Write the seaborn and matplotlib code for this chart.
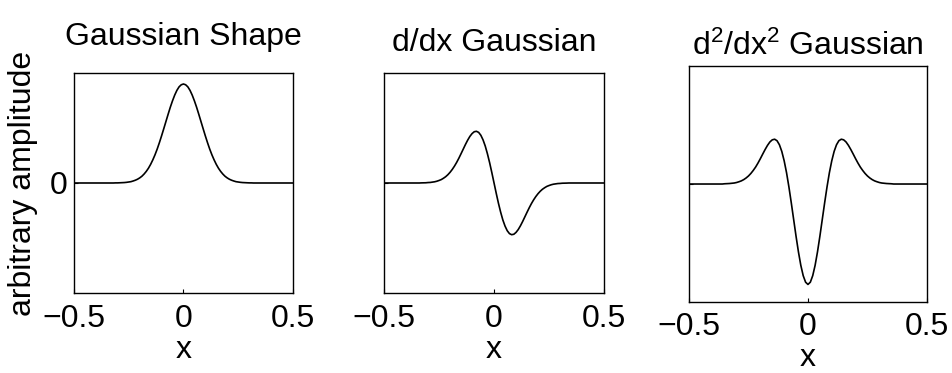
import numpy as np
import pandas as pd
import matplotlib
matplotlib.use("Agg")
import matplotlib.pyplot as plt
import seaborn as sns

# x positions (step 0.01)
x_vals = [round(-0.5 + 0.01 * i, 2) for i in range(101)]

# half-profiles for |x| = 0, 0.01, 0.02, ... (beyond: 0)
gauss_half = [0.900, 0.893, 0.874, 0.842, 0.799, 0.747, 0.689, 0.625, 0.559, 0.493,
              0.428, 0.366, 0.308, 0.256, 0.210, 0.169, 0.134, 0.105, 0.081, 0.061,
              0.046, 0.034, 0.025, 0.018, 0.012, 0.009, 0.006, 0.004, 0.003, 0.002,
              0.001, 0.001, 0.0]
deriv1_half = [0.0, 0.094, 0.184, 0.265, 0.336, 0.392, 0.434, 0.460, 0.470, 0.466,
               0.449, 0.423, 0.389, 0.350, 0.308, 0.266, 0.225, 0.187, 0.153, 0.123,
               0.097, 0.075, 0.057, 0.043, 0.031, 0.023, 0.016, 0.011, 0.008, 0.005,
               0.004, 0.002, 0.0015, 0.001, 0.0]
deriv2_half = [-0.800, -0.782, -0.730, -0.648, -0.541, -0.417, -0.284, -0.151, -0.024, 0.090,
               0.185, 0.260, 0.313, 0.345, 0.357, 0.352, 0.335, 0.308, 0.275, 0.239,
               0.202, 0.167, 0.135, 0.108, 0.084, 0.064, 0.048, 0.035, 0.025, 0.018,
               0.012, 0.008, 0.006, 0.004, 0.003, 0.002, 0.0]

titles = ["Gaussian Shape", "d/dx Gaussian", r"d$^2$/dx$^2$ Gaussian"]
x_ticks = [-0.5, 0, 0.5]
x_tick_labels = ["\u22120.5", "0", "0.5"]


def full_profile(half, odd=False):
    out = []
    for xv in x_vals:
        k = int(round(abs(xv) / 0.01))
        v = half[k] if k < len(half) else 0.0
        if odd and xv > 0:
            v = -v
        out.append(v)
    return out


gauss = full_profile(gauss_half)
deriv1 = full_profile(deriv1_half, odd=True)
deriv2 = full_profile(deriv2_half)

df = pd.DataFrame({"x": x_vals, "g": gauss, "d1": deriv1, "d2": deriv2})

sns.set_theme(style="ticks")
plt.rcParams["font.family"] = ["Liberation Sans", "DejaVu Sans"]
plt.rcParams["mathtext.fontset"] = "custom"
plt.rcParams["mathtext.rm"] = "Liberation Sans"
plt.rcParams["mathtext.it"] = "Liberation Sans"
for k in ["text.color", "axes.labelcolor", "xtick.color", "ytick.color", "axes.edgecolor"]:
    plt.rcParams[k] = "black"

fig = plt.figure(figsize=(9.52, 3.73), dpi=100)
positions = [
    [0.0777, 0.2145, 0.2300, 0.5898],
    [0.4034, 0.2145, 0.2311, 0.5898],
    [0.7237, 0.1903, 0.2500, 0.6327],
]
title_pads = [20, 16, 8]
xtick_pads = [8, 8, 7]
cols = ["g", "d1", "d2"]
fs = 23

for i, (pos, col, title) in enumerate(zip(positions, cols, titles)):
    ax = fig.add_axes(pos)
    sns.lineplot(data=df, x="x", y=col, ax=ax, color="black", linewidth=1.2)
    ax.set_xlim(-0.5, 0.5)
    if i < 2:
        ax.set_ylim(-1, 1)
    else:
        ax.set_ylim(-0.94, 0.94)
    ax.set_xticks(x_ticks)
    ax.set_xticklabels(x_tick_labels, fontsize=fs)
    ax.set_yticks([0])
    if i == 0:
        ax.set_yticklabels(["0"], fontsize=fs)
        ax.set_ylabel("arbitrary amplitude", fontsize=fs, labelpad=8)
    else:
        ax.set_yticklabels([])
        ax.set_ylabel("")
    ax.set_xlabel("x", fontsize=fs, labelpad=1)
    ax.set_title(title, fontsize=fs, pad=title_pads[i])
    ax.tick_params(direction="in", length=3, width=0.8, colors="black")
    ax.tick_params(axis="x", pad=xtick_pads[i])
    ax.tick_params(axis="y", pad=5)
    for s in ax.spines.values():
        s.set_visible(True)
        s.set_color("black")
        s.set_linewidth(1.0)

fig.savefig("out.png", dpi=100, facecolor="white")
